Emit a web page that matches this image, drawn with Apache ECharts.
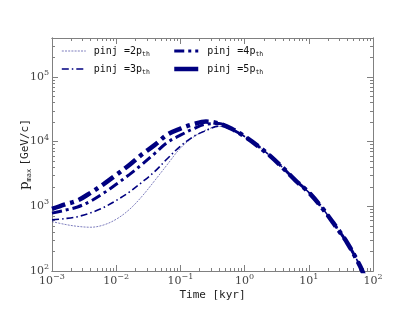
<!DOCTYPE html>
<html><head><meta charset="utf-8">
<script src="https://cdn.jsdelivr.net/npm/echarts@6/dist/echarts.min.js"></script>
<style>html,body{margin:0;padding:0;background:#fff}#c{width:415px;height:312px}</style>
</head><body><div id="c"></div>
<script>
// time in kyr
const times = [0.001, 0.0016, 0.0025, 0.004, 0.0063, 0.01, 0.016, 0.025, 0.04, 0.063, 0.1, 0.16, 0.25, 0.4, 0.63, 1, 1.6, 2.5, 4, 6.3, 10, 16, 25, 40, 63, 72];
// p_max in GeV/c
const p2 = [581, 525, 490, 475, 513, 631, 891, 1413, 2512, 4467, 7943, 11750, 15140, 17180, 15200, 11950, 8610, 6026, 3890, 2483, 1641, 955, 525, 269, 119, 87];
const p3 = [617, 646, 692, 794, 955, 1230, 1660, 2344, 3467, 5495, 8511, 12020, 14790, 17380, 15490, 12020, 8610, 6026, 3890, 2483, 1641, 955, 525, 269, 119, 87];
const p4 = [785, 871, 977, 1202, 1585, 2188, 3090, 4416, 6607, 9772, 12590, 15850, 18620, 19050, 15490, 12020, 8610, 6026, 3890, 2483, 1641, 955, 525, 269, 119, 87];
const p5 = [912, 1072, 1230, 1622, 2188, 3062, 4365, 6310, 8913, 12880, 15850, 18620, 20420, 19050, 15850, 12020, 8610, 6026, 3890, 2483, 1641, 955, 525, 269, 119, 87];
const seriesNames = ['2', '3', '4', '5'];
const xMajor = [0.001, 0.01, 0.1, 1, 10, 100];
const yMajor = [100, 1000, 10000, 100000];
const xMinor = [0.002,0.003,0.004,0.005,0.006,0.007,0.008,0.009,0.02,0.03,0.04,0.05,0.06,0.07,0.08,0.09,0.2,0.3,0.4,0.5,0.6,0.7,0.8,0.9,2,3,4,5,6,7,8,9,20,30,40,50,60,70,80,90];
const yMinor = [200,300,400,500,600,700,800,900,2000,3000,4000,5000,6000,7000,8000,9000,20000,30000,40000,50000,60000,70000,80000,90000,200000,300000];

const NAVY = '#000080';
const AXC = '#808080';
const serif = 'DejaVu Serif';
const mono = 'DejaVu Sans Mono';

function pow10Label(v) {
  const e = Math.round(Math.log10(v));
  return '{b|10}{s|' + (e < 0 ? '\u2212' + (-e) : e) + '}';
}
const labRich = {
  b: {fontFamily: serif, fontSize: 11, color: '#444', lineHeight: 16},
  s: {fontFamily: serif, fontSize: 8, color: '#444', lineHeight: 8, verticalAlign: 'top'}
};

function mkX(pos, major, show) {
  return {
    type: 'log', logBase: 10, min: 0.001, max: 100, position: pos, gridIndex: 0,
    axisLine: {show: true, onZero: false, lineStyle: {color: AXC, width: 1}},
    axisTick: {show: true, inside: true, length: major ? 6 : 3, customValues: major ? xMajor : xMinor, lineStyle: {color: AXC, width: 1}},
    axisLabel: show ? {show: true, customValues: xMajor, margin: 2, formatter: pow10Label, rich: labRich} : {show: false},
    splitLine: {show: false}, minorTick: {show: false},
    name: show ? 'Time [kyr]' : '', nameLocation: 'middle', nameGap: 19, nameMoveOverlap: false,
    nameTextStyle: {fontFamily: mono, fontSize: 11, color: '#222'}
  };
}
function mkY(pos, major, show) {
  return {
    type: 'log', logBase: 10, min: 100, max: 400000, position: pos, gridIndex: 0,
    axisLine: {show: true, onZero: false, lineStyle: {color: AXC, width: 1}},
    axisTick: {show: true, inside: true, length: major ? 6 : 3, customValues: major ? yMajor : yMinor, lineStyle: {color: AXC, width: 1}},
    axisLabel: show ? {show: true, customValues: yMajor, margin: 3, formatter: pow10Label, rich: labRich} : {show: false},
    splitLine: {show: false}, minorTick: {show: false},
    name: show ? '{p|p}{s|max} {m|[GeV/c]}' : '', nameLocation: 'middle', nameGap: 19, nameRotate: 90, nameMoveOverlap: false,
    nameTextStyle: {rich: {
      p: {fontFamily: serif, fontSize: 13, color: '#222', lineHeight: 16},
      s: {fontFamily: mono, fontSize: 7, color: '#222', lineHeight: 6, verticalAlign: 'bottom'},
      m: {fontFamily: mono, fontSize: 11, color: '#222', lineHeight: 16}
    }}
  };
}

const styles = {
  '2': {width: 0.8, type: [2, 1.2], opacity: 0.65},
  '3': {width: 1.6, type: [7, 3, 1.5, 3], opacity: 1},
  '4': {width: 3, type: [10, 4, 3, 4], opacity: 1},
  '5': {width: 4.5, type: [14, 5, 4, 5], opacity: 1}
};
const dataArr = {'2': p2, '3': p3, '4': p4, '5': p5};

const series = seriesNames.map(n => ({
  name: n, type: 'line', xAxisIndex: 0, yAxisIndex: 0,
  data: times.map((t, i) => [t, dataArr[n][i]]),
  showSymbol: false, symbol: 'none', smooth: 0.35, clip: true,
  lineStyle: {color: NAVY, width: styles[n].width, type: styles[n].type, opacity: styles[n].opacity, cap: 'butt'},
  itemStyle: {color: NAVY},
  z: 2 + Number(n)
}));

const legRich = {
  m: {fontFamily: mono, fontSize: 10, color: '#111', lineHeight: 14},
  s: {fontFamily: mono, fontSize: 6.5, color: '#111', lineHeight: 6, verticalAlign: 'bottom'}
};
function legFmt(n) { return '{m|pinj =' + n + 'p}{s|th}'; }
function legItem(n, solid) {
  return {name: n, itemStyle: {opacity: 0}, lineStyle: {color: NAVY, width: styles[n].width, type: solid ? 'solid' : styles[n].type, opacity: styles[n].opacity}};
}

const option = {
  animation: false,
  backgroundColor: '#fff',
  grid: {left: 52, right: 42, top: 38, bottom: 41, containLabel: false},
  xAxis: [mkX('bottom', true, true), mkX('bottom', false, false), mkX('top', true, false), mkX('top', false, false)],
  yAxis: [mkY('left', true, true), mkY('left', false, false), mkY('right', true, false), mkY('right', false, false)],
  legend: [
    {orient: 'vertical', left: 61, top: 46, padding: 0, itemWidth: 24, itemHeight: 10, itemGap: 6, selectedMode: false,
     data: [legItem('2'), legItem('3')], formatter: legFmt, textStyle: {rich: legRich, padding: [0, 0, 0, 3]}},
    {orient: 'vertical', left: 172, top: 46, padding: 0, itemWidth: 24, itemHeight: 10, itemGap: 6, selectedMode: false,
     data: [legItem('4'), legItem('5', true)], formatter: legFmt, textStyle: {rich: legRich, padding: [0, 0, 0, 4]}}
  ],
  series: series
};
const chart = echarts.init(document.getElementById('c'), null, {renderer: 'canvas'});
chart.setOption(option);
</script></body></html>
